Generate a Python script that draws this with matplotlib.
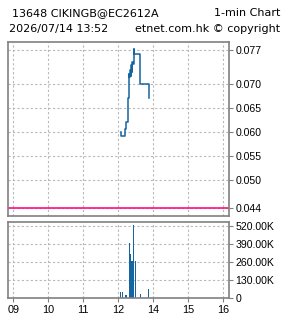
import matplotlib
matplotlib.use('Agg')
import matplotlib.pyplot as plt
from matplotlib.ticker import FuncFormatter

# price steps (time, price)
price_times = ['13:04', '13:05', '13:11', '13:13', '13:16', '13:18', '13:19', '13:20',
               '13:21', '13:22', '13:23', '13:24', '13:25', '13:26', '13:27', '13:36',
               '13:37', '13:52']
price_vals = [0.060, 0.059, 0.0605, 0.062, 0.067, 0.0719, 0.0713, 0.0728, 0.0715,
              0.0738, 0.0725, 0.0746, 0.0740, 0.0772, 0.0762, 0.0762, 0.070, 0.067]

# volume bars
vol_times = ['13:04', '13:07', '13:13', '13:19', '13:21', '13:22', '13:23', '13:24',
             '13:26', '13:29', '13:38', '13:52']
vol_vals = [43000, 43000, 19000, 397000, 318000, 267000, 267000, 267000,
            527000, 267000, 29000, 63000]

ref_price = 0.044
price_ticks = [0.044, 0.050, 0.055, 0.060, 0.065, 0.070, 0.077]
vol_ticks = [0, 130000, 260000, 390000, 520000]
hour_labels = ['09', '10', '11', '12', '14', '15', '16']

title_left = '13648 CIKINGB@EC2612A'
title_right = '1-min Chart'
sub_left = '2026/07/14 13:52'
sub_right = 'etnet.com.hk \u00a9 copyright'


def slot(t):
    # lunch break squeezed out: 12:00 and 13:00 share one slot
    h, m = t.split(':')
    v = int(h) + int(m) / 60.0
    if v >= 13:
        return v - 13 + 3
    return v - 9


plt.rcParams['font.family'] = ['Liberation Sans', 'DejaVu Sans']
GRAY = '#808080'
GRID = '#b8b8b8'
BLUE = '#1565a0'

fig = plt.figure(figsize=(2.85, 3.18), dpi=100)
ax1 = fig.add_axes([8 / 285, 1 - 216 / 318, 221 / 285, 174 / 318])
ax2 = fig.add_axes([8 / 285, 1 - 298 / 318, 221 / 285, 76.3 / 318])

xs = [slot(t) for t in price_times]
ax1.step(xs, price_vals, where='post', color=BLUE, lw=1.1)
ax1.axhline(ref_price, color='#ff1080', lw=1.2)
ax1.set_ylim(0.0424, 0.07867)
ax1.set_yticks(price_ticks)
ax1.yaxis.set_major_formatter(FuncFormatter(lambda v, p: '%.3f' % v))

vx = [slot(t) for t in vol_times]
ax2.bar(vx, vol_vals, width=1.4 / 35, color=BLUE, align='center', linewidth=0)
ax2.set_ylim(0, 551000)
ax2.set_yticks(vol_ticks)
ax2.yaxis.set_major_formatter(
    FuncFormatter(lambda v, p: '0' if v == 0 else '%.2fK' % (v / 1000)))

for ax in (ax1, ax2):
    ax.set_xlim(-0.15, 6.16)
    ax.set_xticks(range(len(hour_labels)))
    ax.grid(True, color=GRID, ls=(0, (2, 2)), lw=0.8)
    ax.set_axisbelow(True)
    ax.yaxis.tick_right()
    for s in ax.spines.values():
        s.set_color(GRAY)
        s.set_linewidth(1.2)
    ax.tick_params(axis='y', colors=GRAY, length=3, width=0.8, pad=1.5,
                   labelcolor='black', labelsize=7.6)
    ax.tick_params(axis='x', colors=GRAY, length=3, width=0.8, pad=2,
                   labelcolor='black', labelsize=7.8)

ax1.tick_params(axis='x', length=0, labelbottom=False)
ax2.set_xticklabels(hour_labels)

hdr = dict(fontsize=8, va='center', family=['DejaVu Sans'])
fig.text(12 / 285, 1 - 13 / 318, title_left, ha='left', **hdr)
fig.text(280 / 285, 1 - 13 / 318, title_right, ha='right', **hdr)
fig.text(9 / 285, 1 - 29 / 318, sub_left, ha='left', **hdr)
fig.text(280 / 285, 1 - 29 / 318, sub_right, ha='right', **hdr)

fig.savefig('out.png', dpi=100)
